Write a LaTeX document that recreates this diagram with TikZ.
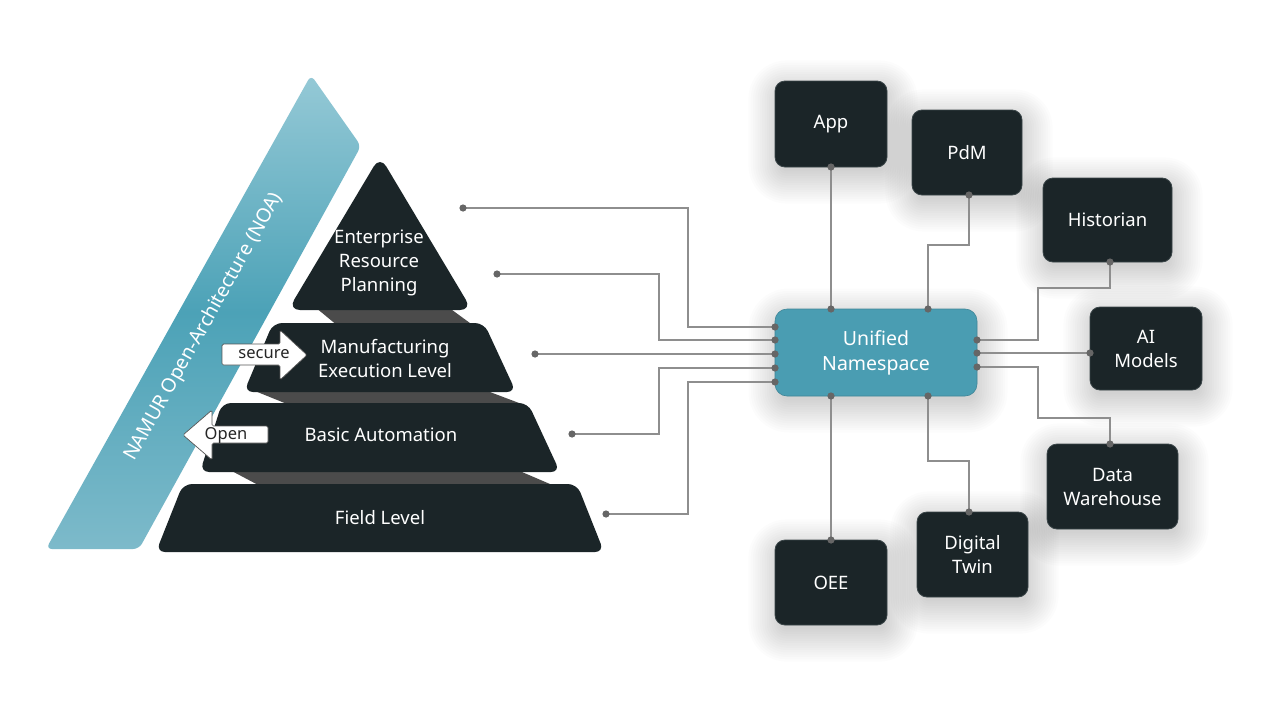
\documentclass[tikz,border=0pt]{standalone}
\usepackage{fontspec}
\setmainfont{Noto Sans}
\usetikzlibrary{calc}
\pgfdeclarelayer{bg}
\pgfdeclarelayer{shadowlayer}
\pgfsetlayers{bg,shadowlayer,main}
\definecolor{darkbox}{HTML}{1B2528}
\definecolor{darkedge}{HTML}{3A4548}
\definecolor{layergray}{HTML}{4B4B4B}
\definecolor{teal}{HTML}{4A9DB2}
\definecolor{bandtop}{HTML}{95C9D6}
\definecolor{bandmid}{HTML}{4CA2B7}
\definecolor{bandbot}{HTML}{7DBACA}
\definecolor{connc}{HTML}{8E8E8E}
\definecolor{dotc}{HTML}{666666}
\definecolor{arrowedge}{HTML}{555555}
\newcommand\boxshadow[2]{% node, base radius
  \begin{pgfonlayer}{shadowlayer}
  \foreach \k in {0,...,14} {
    \pgfmathsetmacro\dd{\k*2.3-4}
    \pgfmathsetmacro\rr{max(#2+\k*2.3-4,2)}
    \fill[black,opacity=0.012,rounded corners=\rr pt]
      ($(#1.south west)+(-\dd+2,\dd+8)$) rectangle ($(#1.north east)+(\dd+2,-\dd+8)$);
  }
  \end{pgfonlayer}}
\begin{document}
\begin{tikzpicture}[x=1pt,y=-1pt,
  lvltext/.style={text=white,align=center,font=\fontsize{18.5}{24}\selectfont},
  layer/.style={fill=darkbox,rounded corners=9pt},
  gapband/.style={fill=layergray},
  tagarrow/.style={fill=white,draw=arrowedge,line width=0.7pt,rounded corners=1.5pt},
  tagtext/.style={text=black!85,font=\fontsize{16.5}{18}\selectfont,inner sep=0pt},
  appbox/.style={fill=darkbox,draw=darkedge,line width=0.8pt,rounded corners=10pt,
    text=white,align=center,font=\fontsize{18.5}{24}\selectfont},
  unsbox/.style={fill=teal,draw=teal!85!black,line width=0.6pt,rounded corners=12pt,
    text=white,align=center,font=\fontsize{19.5}{25}\selectfont},
  conn/.style={draw=connc,line width=1.6pt},
  dot/.style={fill=dotc}
]
\begin{pgfonlayer}{bg}
\fill[white] (0,0) rectangle (1266,712);
\end{pgfonlayer}
\useasboundingbox (0,0) rectangle (1266,712);

% ---------- NOA band ----------
\shade[top color=bandtop,bottom color=bandbot,middle color=bandmid,rounded corners=6pt]
  (311,75) -- (361,146) -- (139,549) -- (46,549) -- cycle;
\node[text=white,rotate=60.8,font=\fontsize{19.5}{22}\selectfont] (noa) at (204,327) {NAMUR Open-Architecture (NOA)};

% ---------- gray joints between layers ----------
\fill[gapband] (315,307) -- (448,307) -- (474,326) -- (338,326) -- cycle;
\fill[gapband] (250,389) -- (482,389) -- (527,406) -- (292,406) -- cycle;
\fill[gapband] (228,469) -- (515,469) -- (557,487) -- (262,487) -- cycle;

% ---------- pyramid layers ----------
\fill[layer,rounded corners=12pt] (380,156) -- (472,310) -- (288,310) -- cycle;
\fill[layer] (273,323) -- (484,323) -- (516,392) -- (244,392) -- cycle;
\fill[layer] (222,403) -- (528,403) -- (560,472) -- (200,472) -- cycle;
\fill[layer] (183,484) -- (577,484) -- (604,552) -- (156,552) -- cycle;

\node[lvltext] (erp) at (379,263) {Enterprise\\Resource\\Planning};
\node[lvltext] (mes) at (385,359) {Manufacturing\\Execution Level};
\node[lvltext] (ba)  at (381,435) {Basic Automation};
\node[lvltext] (fl)  at (380,518) {Field Level};

% ---------- secure / Open tag arrows ----------
\draw[tagarrow] (222,344) -- (280,344) -- (280,330) -- (307,355) -- (280,380) -- (280,365) -- (222,365) -- cycle;
\node[tagtext] (secure) at (264,354.5) {secure};
\draw[tagarrow] (268,426) -- (212,426) -- (212,410) -- (183,435) -- (212,460) -- (212,443) -- (268,443) -- cycle;
\node[tagtext] (open) at (226,435) {Open};

% ---------- boxes ----------
\node[unsbox,minimum width=202pt,minimum height=87pt] (uns) at (876,352.5) {Unified\\Namespace};
\node[appbox,minimum width=112pt,minimum height=86pt] (app) at (831,124) {App};
\node[appbox,minimum width=110pt,minimum height=85pt] (pdm) at (967,152.5) {PdM};
\node[appbox,minimum width=129pt,minimum height=84pt] (hist) at (1107.5,220) {Historian};
\node[appbox,minimum width=112pt,minimum height=83pt] (ai) at (1146,348.5) {AI\\Models};
\node[appbox,minimum width=131pt,minimum height=85pt] (dw) at (1112.5,486.5) {Data\\Warehouse};
\node[appbox,minimum width=111pt,minimum height=85pt] (dt) at (972.5,554.5) {Digital\\Twin};
\node[appbox,minimum width=112pt,minimum height=85pt] (oee) at (831,582.5) {OEE};
\boxshadow{uns}{12}
\foreach \b in {app,pdm,hist,ai,dw,dt,oee} {\boxshadow{\b}{10}}

% ---------- connector end points ----------
\coordinate (p1) at (463,208);
\coordinate (p2) at (497,274);
\coordinate (p3) at (535,354);
\coordinate (p4) at (572,434);
\coordinate (p5) at (606,514);
\coordinate (uw1) at (775,327);
\coordinate (uw2) at (775,340);
\coordinate (uw3) at (775,354);
\coordinate (uw4) at (775,368);
\coordinate (uw5) at (775,382);
\coordinate (ue1) at (977,340);
\coordinate (ue2) at (977,353);
\coordinate (ue3) at (977,367);
\coordinate (un1) at (831,309);
\coordinate (un2) at (928,309);
\coordinate (us1) at (831,396);
\coordinate (us2) at (928,396);
\coordinate (appS) at (831,167);
\coordinate (pdmS) at (969,195);
\coordinate (histS) at (1110,262);
\coordinate (aiW) at (1090,353);
\coordinate (dwN) at (1110,444);
\coordinate (dtN) at (969,512);
\coordinate (oeeN) at (831,540);

% ---------- connectors ----------
\draw[conn] (p1) -- (688,208) -- (688,327) -- (uw1);
\draw[conn] (p2) -- (659,274) -- (659,340) -- (uw2);
\draw[conn] (p3) -- (uw3);
\draw[conn] (p4) -- (659,434) -- (659,368) -- (uw4);
\draw[conn] (p5) -- (688,514) -- (688,382) -- (uw5);

\draw[conn] (appS) -- (un1);
\draw[conn] (pdmS) -- (969,245) -- (928,245) -- (un2);
\draw[conn] (ue1) -- (1038,340) -- (1038,288) -- (1110,288) -- (histS);
\draw[conn] (ue2) -- (aiW);
\draw[conn] (ue3) -- (1038,367) -- (1038,418) -- (1110,418) -- (dwN);
\draw[conn] (us1) -- (oeeN);
\draw[conn] (us2) -- (928,461) -- (969,461) -- (dtN);

% ---------- dots ----------
\foreach \c in {p1,p2,p3,p4,p5,uw1,uw2,uw3,uw4,uw5,ue1,ue2,ue3,un1,un2,us1,us2,appS,pdmS,histS,aiW,dwN,dtN,oeeN}
  \fill[dot] (\c) circle (3.6);
\end{tikzpicture}
\end{document}
